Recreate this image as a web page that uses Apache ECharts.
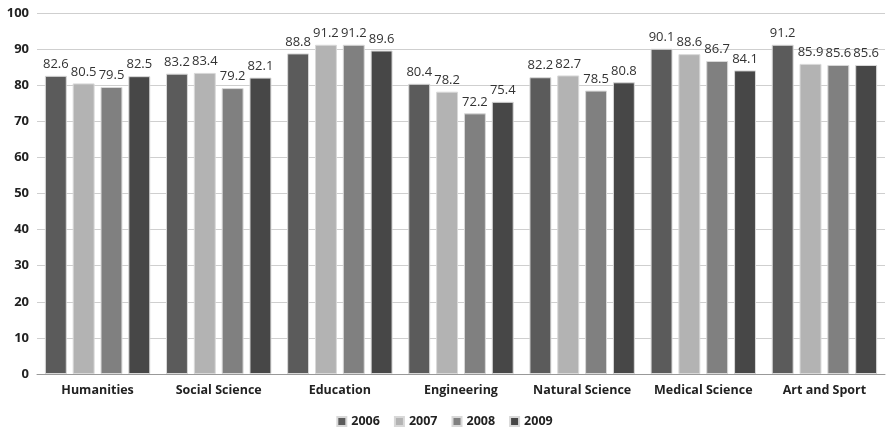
<!DOCTYPE html>
<html>
<head>
<meta charset="utf-8">
<script src="https://cdn.jsdelivr.net/npm/echarts@6/dist/echarts.min.js"></script>
<style>
  html, body { margin: 0; padding: 0; background: #fff; }
  #chart { width: 889px; height: 431px; }
</style>
</head>
<body>
<div id="chart"></div>
<script>
// Fields of study on the x axis
const categories = ['Humanities', 'Social Science', 'Education', 'Engineering', 'Natural Science', 'Medical Science', 'Art and Sport'];

// Yearly values per field
const years = ['2006', '2007', '2008', '2009'];
const values2006 = [82.6, 83.2, 88.8, 80.4, 82.2, 90.1, 91.2];
const values2007 = [80.5, 83.4, 91.2, 78.2, 82.7, 88.6, 85.9];
const values2008 = [79.5, 79.2, 91.2, 72.2, 78.5, 86.7, 85.6];
const values2009 = [82.5, 82.1, 89.6, 75.4, 80.8, 84.1, 85.6];

const yTicks = [0, 10, 20, 30, 40, 50, 60, 70, 80, 90, 100];

const seriesValues = [values2006, values2007, values2008, values2009];
const colors = ['#5b5b5b', '#b3b3b3', '#808080', '#474747'];
const fontFamily = '"Open Sans", "Noto Sans", sans-serif';

const chart = echarts.init(document.getElementById('chart'));

chart.setOption({
  animation: false,
  backgroundColor: '#ffffff',
  textStyle: { fontFamily: fontFamily },
  grid: { left: 37, right: 4, top: 13, bottom: 57, containLabel: false },
  legend: {
    data: years,
    top: 415,
    left: 'center',
    padding: 0,
    itemWidth: 9,
    itemHeight: 9,
    itemGap: 14,
    icon: 'rect',
    textStyle: { fontSize: 12.5, color: '#222', fontWeight: 'bold', fontFamily: fontFamily }
  },
  xAxis: {
    type: 'category',
    data: categories,
    axisTick: { show: false },
    axisLine: { lineStyle: { color: '#999', width: 1 } },
    axisLabel: { color: '#222', fontSize: 12.5, fontWeight: 'bold', margin: 10, interval: 0 }
  },
  yAxis: {
    type: 'value',
    min: yTicks[0],
    max: yTicks[yTicks.length - 1],
    interval: 10,
    axisLine: { show: false },
    axisTick: { show: false },
    splitLine: { lineStyle: { color: '#cfcfcf', width: 1 } },
    axisLabel: { color: '#222', fontSize: 13, fontWeight: 'bold', margin: 8 }
  },
  series: years.map((y, i) => ({
    name: y,
    type: 'bar',
    data: seriesValues[i],
    barGap: '27%',
    barCategoryGap: '13%',
    itemStyle: { color: colors[i], borderColor: '#d8d8d8', borderWidth: 1 },
    label: {
      show: true,
      position: 'top',
      distance: 5,
      color: '#333',
      fontSize: 13,
      fontFamily: fontFamily
    }
  }))
});
</script>
</body>
</html>
